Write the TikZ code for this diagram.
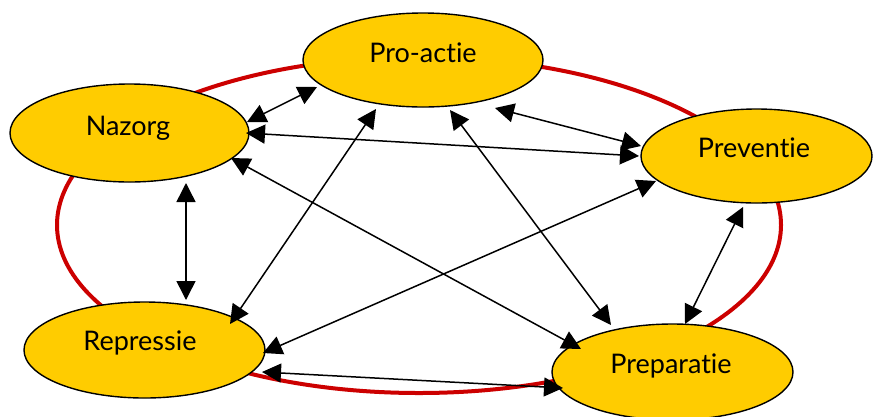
\documentclass[tikz,border=0pt]{standalone}
\usepackage{fontspec}
\setmainfont{Lato}[Ligatures={NoCommon,NoContextual}]
\usetikzlibrary{arrows.meta,shapes.geometric}
\definecolor{ringred}{RGB}{204,0,0}
\definecolor{boxyellow}{RGB}{255,204,0}
\begin{document}
\begin{tikzpicture}[x=1pt,y=-1pt,
  phase/.style={draw=black,line width=1.4pt,fill=boxyellow,ellipse,inner sep=0pt},
  lbl/.style={anchor=base,inner sep=0pt,font=\fontsize{27}{32}\selectfont},
  link/.style={line width=1.5pt,{Triangle[length=19pt,width=19pt]}-{Triangle[length=19pt,width=19pt]}}]
\useasboundingbox (0,0) rectangle (874,416);
\clip (0,0) rectangle (874,416);
% red ring
\draw[ringred,line width=4pt] (419,225) ellipse [x radius=362,y radius=168];
% phases
\node[phase,minimum width=240pt,minimum height=94pt] (pro) at (423,60) {};
\node[phase,minimum width=239pt,minimum height=98pt] (naz) at (129.5,133) {};
\node[phase,minimum width=231pt,minimum height=94pt] (prev) at (756.5,156) {};
\node[phase,minimum width=241pt,minimum height=96pt] (rep) at (144.5,350) {};
\node[phase,minimum width=241pt,minimum height=96pt] (prep) at (672.5,372) {};
\node[lbl] (pro-t) at (423,62) {Pro-actie};
\node[lbl] (naz-t) at (128,135) {Nazorg};
\node[lbl] (prev-t) at (754,157) {Preventie};
\node[lbl] (rep-t) at (140,350) {Repressie};
\node[lbl] (prep-t) at (671,373) {Preparatie};
% connectors
\draw[link] ([shift={(117.5,-11)}]naz.center) -- ([shift={(-106,27)}]pro.center);
\draw[link] ([shift={(116.5,0)}]naz.center) -- ([shift={(-117.5,0)}]prev.center);
\draw[link] ([shift={(101.5,25)}]naz.center) -- ([shift={(-91.5,-23)}]prep.center);
\draw[link] ([shift={(56.5,50)}]naz.center) -- ([shift={(41.5,-50)}]rep.center);
\draw[link] ([shift={(-47,49)}]pro.center) -- ([shift={(85.5,-26)}]rep.center);
\draw[link] ([shift={(72,48)}]pro.center) -- ([shift={(-115.5,-10)}]prev.center);
\draw[link] ([shift={(27,50)}]pro.center) -- ([shift={(-61.5,-47)}]prep.center);
\draw[link] ([shift={(-100.5,25)}]prev.center) -- ([shift={(118.5,3)}]rep.center);
\draw[link] ([shift={(-13.5,51)}]prev.center) -- ([shift={(12.5,-48)}]prep.center);
\draw[link] ([shift={(117.5,22)}]rep.center) -- ([shift={(-109.5,16)}]prep.center);
\end{tikzpicture}
\end{document}
